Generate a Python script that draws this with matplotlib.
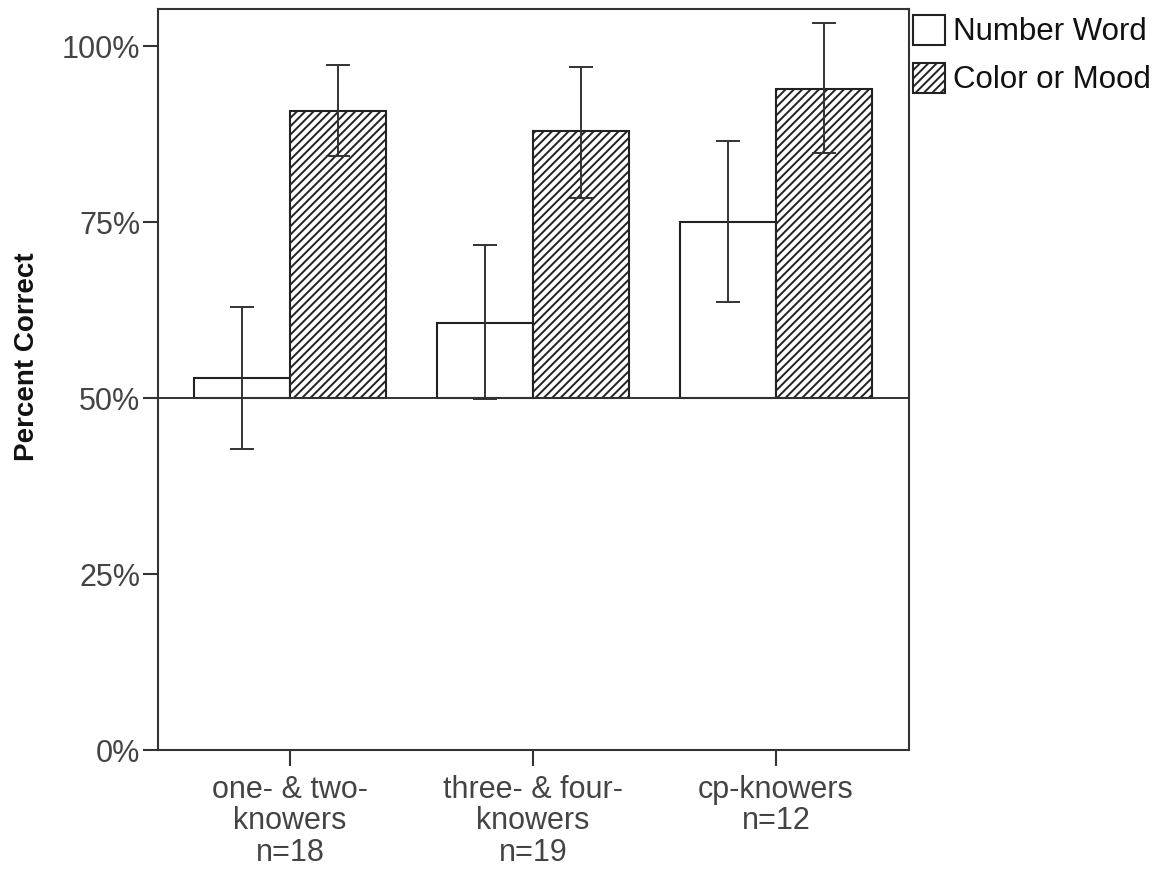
import matplotlib
matplotlib.use("Agg")
import matplotlib.pyplot as plt
import numpy as np

categories = ["one- & two-\nknowers\nn=18", "three- & four-\nknowers\nn=19", "cp-knowers\nn=12"]
series_names = ["Number Word", "Color or Mood"]
nw_mean = [52.9, 60.7, 75.1]
cm_mean = [90.8, 87.9, 94.0]
nw_lo = [42.8, 49.9, 63.6]
nw_hi = [63.0, 71.7, 86.5]
cm_lo = [84.4, 78.4, 84.8]
cm_hi = [97.3, 97.0, 103.3]
baseline = 50
ytick_vals = [0, 25, 50, 75, 100]
ytick_labels = ["0%", "25%", "50%", "75%", "100%"]

plt.rcParams['font.family'] = ['Liberation Sans', 'DejaVu Sans']
plt.rcParams['hatch.linewidth'] = 1.4
plt.rcParams['hatch.color'] = '#222222'

W, H = 1160, 869
fig = plt.figure(figsize=(W / 100, H / 100), dpi=100)
ax = fig.add_axes([157.5 / W, 1 - 750 / H, (909 - 157.5) / W, (750 - 9) / H])

x = np.arange(len(categories))
bw = 0.395
edge = '#222222'
nw_mean_a = np.array(nw_mean)
cm_mean_a = np.array(cm_mean)

b1 = ax.bar(x - bw / 2, nw_mean_a - baseline, bw, bottom=baseline, color='white',
            edgecolor=edge, linewidth=1.5, label=series_names[0], zorder=2)
b2 = ax.bar(x + bw / 2, cm_mean_a - baseline, bw, bottom=baseline, color='white',
            edgecolor=edge, linewidth=1.5, hatch='////', label=series_names[1], zorder=2)

ax.axhline(baseline, color='#333333', lw=1.4, zorder=3)

errc = '#333333'
ax.errorbar(x - bw / 2, nw_mean_a,
            yerr=[nw_mean_a - np.array(nw_lo), np.array(nw_hi) - nw_mean_a],
            fmt='none', ecolor=errc, elinewidth=1.4, capsize=8.4, capthick=1.4, zorder=4)
ax.errorbar(x + bw / 2, cm_mean_a,
            yerr=[cm_mean_a - np.array(cm_lo), np.array(cm_hi) - cm_mean_a],
            fmt='none', ecolor=errc, elinewidth=1.4, capsize=8.4, capthick=1.4, zorder=4)

ax.set_xlim(-0.545, 2.547)
ax.set_ylim(0, 105.3)
ax.set_yticks(ytick_vals)
ax.set_yticklabels(ytick_labels)
ax.set_xticks(x)
ax.set_xticklabels(categories, linespacing=1.06)

for s in ax.spines.values():
    s.set_color('#333333')
    s.set_linewidth(1.5)

ax.tick_params(axis='y', length=11, width=1.5, color='#333333', labelsize=22,
               labelcolor='#444444', pad=1.5, direction='out')
ax.tick_params(axis='x', length=11.5, width=1.5, color='#333333', labelsize=22,
               labelcolor='#444444', pad=6.5, direction='out')

fig.text(27 / W, 1 - 357 / H, "Percent Correct", rotation=90, fontsize=20,
         fontweight='bold', ha='center', va='center', color='#111111')

leg = fig.legend(handles=[b1, b2], labels=series_names, loc='upper left',
                 bbox_to_anchor=(913 / W, 1 - 15 / H), bbox_transform=fig.transFigure,
                 frameon=False, fontsize=22.5, borderpad=0, borderaxespad=0,
                 handlelength=1.02, handleheight=1.08, handletextpad=0.25,
                 labelspacing=0.5)
for t in leg.get_texts():
    t.set_color('#111111')

fig.savefig("out.png", dpi=100)
